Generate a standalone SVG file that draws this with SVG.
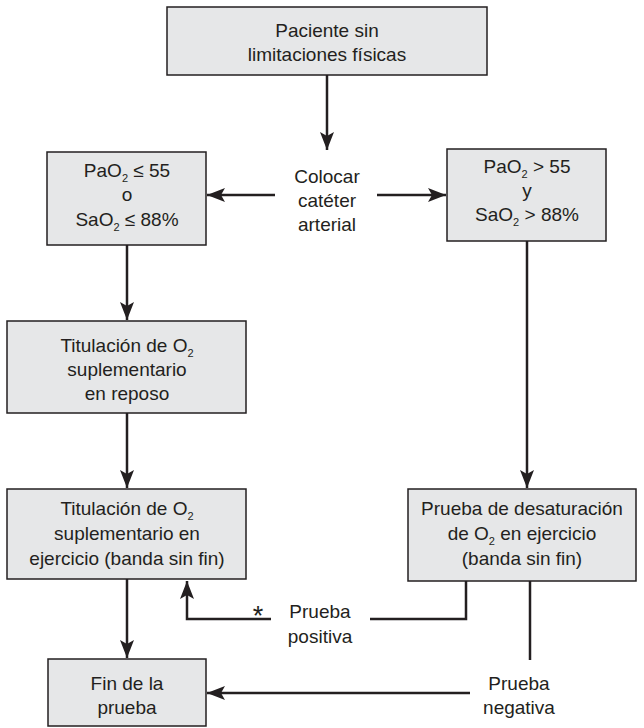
<svg xmlns="http://www.w3.org/2000/svg" width="644" height="728" viewBox="0 0 644 728">
<style>
.box{fill:#e6e7e8;stroke:#231f20;stroke-width:1.5}
.t{font-family:"Liberation Sans",Arial,sans-serif;font-size:19px;fill:#231f20;text-anchor:middle}
.sub{font-size:11px}
.star{font-size:27px}
.c{fill:none;stroke:#231f20;stroke-width:2.5}
</style>
<defs>
<marker id="ah" markerUnits="userSpaceOnUse" markerWidth="20" markerHeight="14" refX="18" refY="7" orient="auto" viewBox="0 0 20 14">
<path d="M0,0 L18,7 L0,14 L4,7 Z" fill="#231f20"/>
</marker>
</defs>
<rect width="644" height="728" fill="#fff"/>
<g id="connectors">
<line class="c" x1="327" y1="75" x2="327" y2="150" marker-end="url(#ah)"/>
<line class="c" x1="275" y1="195" x2="207" y2="195" marker-end="url(#ah)"/>
<line class="c" x1="377" y1="195" x2="446" y2="195" marker-end="url(#ah)"/>
<line class="c" x1="127" y1="245" x2="127" y2="320" marker-end="url(#ah)"/>
<line class="c" x1="127" y1="413" x2="127" y2="488" marker-end="url(#ah)"/>
<line class="c" x1="527" y1="241" x2="527" y2="488" marker-end="url(#ah)"/>
<line class="c" x1="127" y1="579" x2="127" y2="658" marker-end="url(#ah)"/>
<polyline class="c" points="466,581 466,619 370,619"/>
<polyline class="c" points="271,619 187,619 187,581" marker-end="url(#ah)"/>
<line class="c" x1="530" y1="581" x2="530" y2="660"/>
<line class="c" x1="470" y1="693" x2="207" y2="693" marker-end="url(#ah)"/>
</g>
<g id="n-start">
<rect class="box" x="167" y="7" width="320" height="68"/>
<text class="t" x="327" y="37">Paciente sin</text>
<text class="t" x="327" y="61">limitaciones físicas</text>
</g>
<g id="l-colocar">
<text class="t" x="327" y="183">Colocar</text>
<text class="t" x="327" y="207">catéter</text>
<text class="t" x="327" y="231">arterial</text>
</g>
<g id="n-low">
<rect class="box" x="47" y="152" width="159" height="93"/>
<text class="t" x="127" y="177">PaO<tspan class="sub" dy="5">2</tspan><tspan dy="-5"> ≤ 55</tspan></text>
<text class="t" x="127" y="201">o</text>
<text class="t" x="127" y="226">SaO<tspan class="sub" dy="5">2</tspan><tspan dy="-5"> ≤ 88%</tspan></text>
</g>
<g id="n-high">
<rect class="box" x="447" y="149" width="159" height="92"/>
<text class="t" x="527" y="173">PaO<tspan class="sub" dy="5">2</tspan><tspan dy="-5"> &gt; 55</tspan></text>
<text class="t" x="527" y="197">y</text>
<text class="t" x="527" y="221">SaO<tspan class="sub" dy="5">2</tspan><tspan dy="-5"> &gt; 88%</tspan></text>
</g>
<g id="n-rest">
<rect class="box" x="7" y="321" width="239" height="92"/>
<text class="t" x="127" y="352">Titulación de O<tspan class="sub" dy="5">2</tspan></text>
<text class="t" x="127" y="376">suplementario</text>
<text class="t" x="127" y="400">en reposo</text>
</g>
<g id="n-exercise">
<rect class="box" x="7" y="489" width="239" height="90"/>
<text class="t" x="127" y="515">Titulación de O<tspan class="sub" dy="5">2</tspan></text>
<text class="t" x="127" y="540">suplementario en</text>
<text class="t" x="127" y="565">ejercicio (banda sin fin)</text>
</g>
<g id="n-desat">
<rect class="box" x="408" y="489" width="228" height="92"/>
<text class="t" x="522" y="515">Prueba de desaturación</text>
<text class="t" x="522" y="540">de O<tspan class="sub" dy="5">2</tspan><tspan dy="-5"> en ejercicio</tspan></text>
<text class="t" x="522" y="565">(banda sin fin)</text>
</g>
<g id="l-positiva">
<text class="t star" x="258" y="625">*</text>
<text class="t" x="320" y="618">Prueba</text>
<text class="t" x="320" y="643">positiva</text>
</g>
<g id="l-negativa">
<text class="t" x="519" y="690">Prueba</text>
<text class="t" x="519" y="714">negativa</text>
</g>
<g id="n-end">
<rect class="box" x="48" y="659" width="158" height="67"/>
<text class="t" x="127" y="690">Fin de la</text>
<text class="t" x="127" y="714">prueba</text>
</g>
</svg>
